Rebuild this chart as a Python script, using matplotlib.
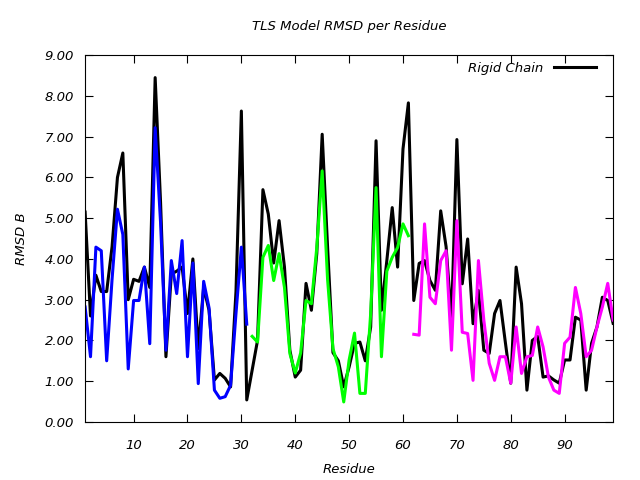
import matplotlib
matplotlib.use("Agg")
import matplotlib.pyplot as plt

# residue numbers
res_all = list(range(1, 100))
res_blue = list(range(1, 32))
res_green = list(range(32, 62))
res_magenta = list(range(62, 100))

# rigid chain RMSD (black), residues 1..99
rigid = [5.15, 2.6, 3.6, 3.2, 3.2, 4.3, 6.0, 6.6, 3.0, 3.5,
         3.45, 3.8, 3.3, 8.45, 5.4, 1.6, 3.63, 3.7, 3.8, 2.66,
         4.0, 1.8, 3.3, 2.74, 1.03, 1.19, 1.07, 0.86, 3.2, 7.63,
         0.54, 1.27, 2.0, 5.7, 5.1, 3.9, 4.94, 3.8, 1.76, 1.1,
         1.27, 3.4, 2.74, 4.13, 7.06, 4.3, 1.7, 1.5, 0.86, 1.35,
         1.93, 1.96, 1.5, 2.33, 6.9, 2.74, 3.96, 5.26, 3.8, 6.7,
         7.83, 2.98, 3.89, 3.96, 3.47, 3.23, 5.18, 4.3, 2.5, 6.93,
         3.39, 4.49, 2.41, 3.23, 1.76, 1.68, 2.66, 2.98, 1.95, 0.95,
         3.8, 2.9, 0.78, 2.0, 2.1, 1.1, 1.13, 1.03, 0.95, 1.52,
         1.52, 2.57, 2.5, 0.78, 1.93, 2.33, 3.06, 2.98, 2.42]

# segment RMSD values
seg_blue = [2.82, 1.6, 4.29, 4.2, 1.5, 3.5, 5.22, 4.6, 1.3, 2.98,
            2.98, 3.8, 1.92, 7.22, 4.9, 1.76, 3.96, 3.15, 4.45, 1.6,
            3.9, 0.94, 3.45, 2.8, 0.78, 0.58, 0.62, 0.9, 2.66, 4.29,
            2.4]
seg_green = [2.1, 1.96, 4.04, 4.33, 3.47, 4.13, 3.3, 1.68, 1.2, 1.69,
             2.98, 2.9, 4.28, 6.16, 3.5, 1.8, 1.35, 0.49, 1.52, 2.18,
             0.7, 0.7, 2.66, 5.75, 1.6, 3.7, 4.04, 4.28, 4.86, 4.57]
seg_magenta = [2.15, 2.13, 4.86, 3.06, 2.9, 3.96, 4.2, 1.76, 4.94, 2.2,
               2.17, 1.02, 3.96, 2.5, 1.44, 1.02, 1.6, 1.6, 0.95, 2.33,
               1.19, 1.6, 1.63, 2.33, 1.84, 1.1, 0.78, 0.7, 1.93, 2.08,
               3.3, 2.66, 1.6, 1.76, 2.33, 2.82, 3.4, 2.5]

x_ticks = [10, 20, 30, 40, 50, 60, 70, 80, 90]
y_ticks = [0, 1, 2, 3, 4, 5, 6, 7, 8, 9]

font = dict(family="DejaVu Sans", style="italic", size=9.5)

fig = plt.figure(figsize=(6.4, 4.8), dpi=100)
ax = fig.add_axes([0.133, 0.121, 0.825, 0.764])

ax.plot(res_all, rigid, color="black", lw=2.2, label="Rigid Chain")
ax.plot(res_blue, seg_blue, color="#0000ff", lw=2.2)
ax.plot(res_green, seg_green, color="#00ff00", lw=2.2)
ax.plot(res_magenta, seg_magenta, color="#ff00ff", lw=2.2)

ax.set_xlim(1, 99)
ax.set_ylim(0, 9)
ax.set_xticks(x_ticks)
ax.set_yticks(y_ticks)
ax.set_yticklabels(["%.2f" % v for v in y_ticks])
ax.tick_params(direction="in", length=6, top=True, right=True, pad=8)
for lab in ax.get_xticklabels() + ax.get_yticklabels():
    lab.set_fontstyle("italic")
    lab.set_fontsize(9.5)
ax.tick_params(axis="x", pad=12)

ax.set_title("TLS Model RMSD per Residue", pad=18, **font)
ax.set_xlabel("Residue", labelpad=8, **font)
ax.set_ylabel("RMSD B", labelpad=12, **font)

leg = ax.legend(loc="upper right", frameon=False, markerfirst=False,
                handlelength=3.2, prop=dict(style="italic", size=9.5),
                borderaxespad=0.3, bbox_to_anchor=(0.985, 1.008))

fig.savefig("out.png", dpi=100)
